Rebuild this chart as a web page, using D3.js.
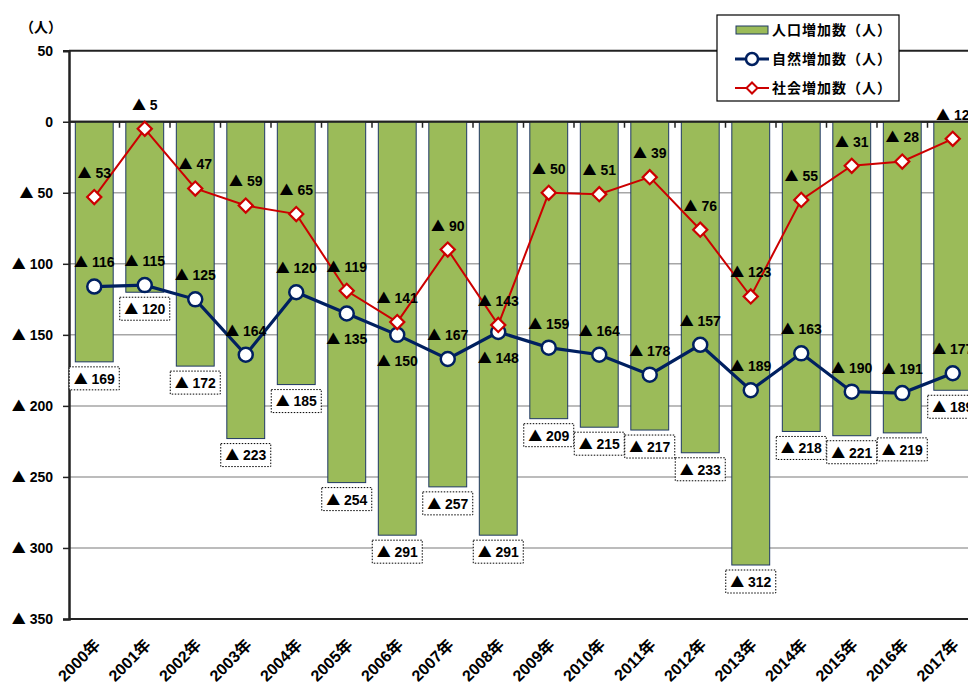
<!DOCTYPE html>
<html><head><meta charset="utf-8">
<script src="https://cdn.jsdelivr.net/npm/d3@7"></script>
<style>
body{margin:0;background:#fff;}
svg{display:block;}
text{font-family:"Liberation Sans","Noto Sans CJK JP",sans-serif;font-weight:bold;fill:#000;}
.tri{font-family:"Noto Sans CJK JP",sans-serif;}
</style></head>
<body>
<svg id="c" width="968" height="686"></svg>
<script>
const years = ["2000年","2001年","2002年","2003年","2004年","2005年","2006年","2007年","2008年","2009年","2010年","2011年","2012年","2013年","2014年","2015年","2016年","2017年"];
const population = [-169,-120,-172,-223,-185,-254,-291,-257,-291,-209,-215,-217,-233,-312,-218,-221,-219,-189];
const natural = [-116,-115,-125,-164,-120,-135,-150,-167,-148,-159,-164,-178,-157,-189,-163,-190,-191,-177];
const social = [-53,-5,-47,-59,-65,-119,-141,-90,-143,-50,-51,-39,-76,-123,-55,-31,-28,-12];
const naturalBelow = ["2005年","2006年","2008年"];
const yTicks = [50,0,-50,-100,-150,-200,-250,-300,-350];
const seriesNames = ["人口増加数（人）","自然増加数（人）","社会増加数（人）"];
const unitLabel = "（人）";

const svg = d3.select("#c");
const x = d3.scaleBand().domain(years).range([69, 978]).paddingInner(0.25).paddingOuter(0.125);
const y = d3.scaleLinear().domain([-350, 50]).range([619, 50.7]);
const cx = d => x(d) + x.bandwidth()/2;

// write a value with a full-width ▲ for negatives
function setVal(t, v) {
  t.text(null);
  if (v < 0) {
    t.append("tspan").attr("class", "tri").text("▲");
    t.append("tspan").text(" " + Math.abs(v));
  } else {
    t.append("tspan").text(String(v));
  }
}

// gridlines
svg.append("g").selectAll("line").data(yTicks).join("line")
  .attr("x1", 69).attr("x2", 978)
  .attr("y1", d => y(d)).attr("y2", d => y(d))
  .attr("stroke", d => (d === 50 || d === 0 || d === -350) ? "#222" : "#a6a6a6")
  .attr("stroke-width", d => (d === 50 || d === 0 || d === -350) ? 2 : 1.5);

// bars
svg.append("g").selectAll("rect").data(years).join("rect")
  .attr("x", d => x(d)).attr("width", x.bandwidth())
  .attr("y", y(0)).attr("height", (d,i) => y(population[i]) - y(0))
  .attr("fill", "#9bbb59").attr("stroke", "#1f3864").attr("stroke-width", 1);

// zero axis line on top of bars
svg.append("line").attr("x1", 69).attr("x2", 978).attr("y1", y(0)).attr("y2", y(0))
  .attr("stroke", "#222").attr("stroke-width", 2);
// category tick marks at zero line
svg.append("g").selectAll("line").data(years.slice(1)).join("line")
  .attr("x1", d => x(d) - x.step()*x.paddingInner()/2).attr("x2", d => x(d) - x.step()*x.paddingInner()/2)
  .attr("y1", y(0)).attr("y2", y(0) + 6)
  .attr("stroke", "#222").attr("stroke-width", 1.5);

// left axis
const yAxis = d3.axisLeft(y).tickValues(yTicks).tickSize(6).tickPadding(10);
const ga = svg.append("g").attr("transform", "translate(69,0)").call(yAxis);
ga.select(".domain").attr("stroke", "#222").attr("stroke-width", 2.5);
ga.selectAll(".tick line").attr("stroke", "#222").attr("stroke-width", 1.5);
ga.selectAll(".tick text").style("font-size", "14px").attr("fill", "#000")
  .style("font-family", '"Liberation Sans","Noto Sans CJK JP",sans-serif').style("font-weight", "bold")
  .each(function(d){ setVal(d3.select(this), d); });

svg.append("text").attr("x", 41).attr("y", 32).attr("text-anchor", "middle")
  .style("font-size", "14px").text(unitLabel);

// x labels
svg.append("g").selectAll("text").data(years).join("text")
  .attr("transform", d => `translate(${cx(d) + 3},${642}) rotate(-45)`)
  .attr("text-anchor", "end").attr("dy", "0.35em")
  .style("font-size", "16px").text(d => d);

// lines
const lineN = d3.line().x((d,i) => cx(years[i])).y(d => y(d));
svg.append("path").datum(natural).attr("d", lineN).attr("fill", "none")
  .attr("stroke", "#002060").attr("stroke-width", 3.2);
svg.append("path").datum(social).attr("d", lineN).attr("fill", "none")
  .attr("stroke", "#cc0000").attr("stroke-width", 2);

svg.append("g").selectAll("circle").data(natural).join("circle")
  .attr("cx", (d,i) => cx(years[i])).attr("cy", d => y(d)).attr("r", 7)
  .attr("fill", "#fff").attr("stroke", "#002060").attr("stroke-width", 2.5);

const diamond = d3.symbol().type(d3.symbolSquare).size(100);
svg.append("g").selectAll("path").data(social).join("path")
  .attr("d", diamond)
  .attr("transform", (d,i) => `translate(${cx(years[i])},${y(d)}) rotate(45)`)
  .attr("fill", "#fff").attr("stroke", "#cc0000").attr("stroke-width", 2.2);

// data labels
const lbl = svg.append("g").style("font-size", "14px");
social.forEach((v,i) => {
  const t = lbl.append("text").attr("x", cx(years[i])).attr("y", y(v) - 24).attr("dy", "0.35em")
    .attr("text-anchor", "middle");
  setVal(t, v);
});
natural.forEach((v,i) => {
  const below = naturalBelow.includes(years[i]);
  const t = lbl.append("text").attr("x", cx(years[i])).attr("y", y(v) + (below ? 26 : -24)).attr("dy", "0.35em")
    .attr("text-anchor", "middle");
  setVal(t, v);
});
population.forEach((v,i) => {
  const by = y(v);
  lbl.append("rect").attr("x", cx(years[i]) - 25).attr("y", by + 5).attr("width", 50).attr("height", 23)
    .attr("fill", "#fff").attr("stroke", "#000").attr("stroke-width", 1).attr("stroke-dasharray", "1.5,1.5");
  const t = lbl.append("text").attr("x", cx(years[i])).attr("y", by + 17).attr("dy", "0.35em")
    .attr("text-anchor", "middle");
  setVal(t, v);
});

// legend
const lg = svg.append("g");
lg.append("rect").attr("x", 717).attr("y", 15).attr("width", 182).attr("height", 86)
  .attr("fill", "#fff").attr("stroke", "#000").attr("stroke-width", 1.2);
const rows = [30, 59, 88];
lg.append("rect").attr("x", 736).attr("y", 26).attr("width", 32).attr("height", 8)
  .attr("fill", "#9bbb59").attr("stroke", "#1f3864").attr("stroke-width", 1);
lg.append("line").attr("x1", 735).attr("x2", 769).attr("y1", rows[1]).attr("y2", rows[1])
  .attr("stroke", "#002060").attr("stroke-width", 3.2);
lg.append("circle").attr("cx", 752).attr("cy", rows[1]).attr("r", 6)
  .attr("fill", "#fff").attr("stroke", "#002060").attr("stroke-width", 2.5);
lg.append("line").attr("x1", 735).attr("x2", 769).attr("y1", rows[2]).attr("y2", rows[2])
  .attr("stroke", "#cc0000").attr("stroke-width", 2);
lg.append("path").attr("d", d3.symbol().type(d3.symbolSquare).size(60))
  .attr("transform", `translate(752,${rows[2]}) rotate(45)`)
  .attr("fill", "#fff").attr("stroke", "#cc0000").attr("stroke-width", 2);
seriesNames.forEach((s,i) => {
  lg.append("text").attr("x", 772).attr("y", rows[i]).attr("dy", "0.35em")
    .style("font-size", "14px").style("letter-spacing", "1px")
    .style("font-family", '"Noto Sans CJK JP",sans-serif').text(s);
});
</script>
</body></html>
